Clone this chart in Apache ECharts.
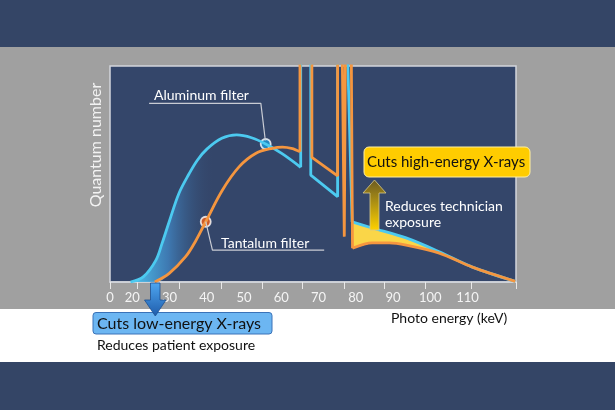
<!DOCTYPE html>
<html>
<head>
<meta charset="utf-8">
<script src="https://cdn.jsdelivr.net/npm/echarts@6/dist/echarts.min.js"></script>
<style>
html, body { margin: 0; padding: 0; }
#chart { width: 615px; height: 410px; }
</style>
</head>
<body>
<div id="chart"></div>
<script>
// x axis (keV) - the picture's axis starts a little below 20 but is labelled "0"
var xMin = 14, xMax = 123;
var xLabelValues = [14, 20, 30, 40, 50, 60, 70, 80, 90, 100, 110];
var xTickValues = [14, 21.3, 32.7, 43.8, 54.8, 65.7, 76.9, 87.7, 98.7, 111.1, 123];

// aluminum filter spectrum (cyan)
var cyanRiseX = [19.5, 23, 26.3, 28, 30, 32.5, 35.2, 37.5, 40, 44, 48, 52, 55.8, 60.3, 65.2];
var cyanRiseY = [0, 2.5, 10, 18, 28.5, 41, 50, 56.5, 61.5, 66.5, 68.1, 66.8, 63.9, 59.3, 53.1];
var cyanSpikeX = [65.2, 65.2, 67.9, 67.9, 75.1, 75.1, 77.4, 79.0];
var cyanSpikeY = [53.1, 130, 130, 49.5, 39.5, 130, 130, 27.8];
var cyanTailX = [79.0, 84.4, 93.5, 102.4, 111.3, 122.8];
var cyanTailY = [27.8, 25.0, 20.4, 14.0, 6.9, 0.3];

// tantalum filter spectrum (orange)
var orangeRiseX = [26, 29.9, 34.3, 37, 39.7, 44.2, 48.7, 53.2, 57.6, 60.3, 63, 65];
var orangeRiseY = [0, 4, 11.7, 19, 27.9, 42.6, 53.4, 59.6, 61.9, 62.4, 61.7, 60.3];
var orangeSpikeX = [65, 65, 68.2, 68.2, 75.1, 75.1, 76.2, 76.9, 77.3, 78.7, 79.1];
var orangeSpikeY = [60.3, 130, 130, 57.7, 49.1, 130, 130, 21, 130, 130, 15.6];
var orangeTailX = [79.1, 84.4, 89, 93.5, 102.4, 111.3, 122.8];
var orangeTailY = [15.6, 18.1, 18.1, 17.1, 13.4, 6.9, 0.3];

// shaded differences
var blueX = [19.5, 23, 26.3, 28, 30, 32.5, 35.2, 37.5, 40, 42];
var blueTop = [0, 2.5, 10, 18, 28.5, 41, 50, 56.5, 61.5, 64.5];
var blueBottom = [0, 0, 0, 0.8, 4.1, 8.5, 14, 20.5, 29, 35.5];
var yellowX = [79.1, 84.4, 89, 93.5, 98, 102.4, 104];
var yellowTop = [27.8, 25.0, 22.7, 20.4, 17.5, 14.0, 13.0];
var yellowBottom = [15.6, 18.1, 18.1, 17.1, 15.5, 13.4, 12.9];

// marker points and leader lines
var alPoint = [55.8, 63.9];
var taPoint = [39.7, 27.9];
var alLeader = [[24.5, 82.7], [54.5, 82.7], [55.7, 65.5]];
var taLeader = [[39.7, 27.9], [41.5, 14.8], [71.5, 14.8]];

function zip(xs, ys) {
    return xs.map(function (x, i) { return [x, ys[i]]; });
}

var CYAN = '#4ccaf0', ORANGE = '#f5963f', NAVY = '#344566';
var FONT = 'Lato';

function bandRender(xs, tops, bottoms, fill) {
    return function (params, api) {
        if (params.dataIndex !== 0) return;
        var pts = [];
        for (var i = 0; i < xs.length; i++) pts.push(api.coord([xs[i], tops[i]]));
        for (var j = xs.length - 1; j >= 0; j--) pts.push(api.coord([xs[j], bottoms[j]]));
        return { type: 'polygon', shape: { points: pts }, style: { fill: fill } };
    };
}

function lineSeries(xs, ys, color, smooth) {
    return {
        type: 'line', data: zip(xs, ys), smooth: smooth, showSymbol: false, clip: true,
        lineStyle: { color: color, width: 2.8 }, silent: true
    };
}

var chart = echarts.init(document.getElementById('chart'));

var option = {
    backgroundColor: '#a0a0a0',
    animation: false,
    grid: {
        left: 110, top: 66, width: 406, height: 216,
        show: true, backgroundColor: '#34466a', borderColor: '#d2d5dc', borderWidth: 1.5
    },
    xAxis: {
        type: 'value', min: xMin, max: xMax,
        splitLine: { show: false },
        axisLine: { show: true, lineStyle: { color: '#d2d5dc', width: 1.5 } },
        axisTick: { show: true, customValues: xTickValues, length: 7, lineStyle: { color: '#e8e8e8' } },
        axisLabel: {
            customValues: xLabelValues, color: '#f4f4f4', fontSize: 13, fontFamily: FONT, margin: 9,
            formatter: function (v) { return v === xMin ? '0' : String(v); }
        }
    },
    yAxis: {
        type: 'value', min: 0, max: 100,
        show: false
    },
    series: [
        {
            type: 'custom', clip: true, silent: true,
            data: blueX.map(function (x, i) { return [x, blueTop[i], blueBottom[i]]; }),
            encode: { x: 0, y: [1, 2] },
            renderItem: bandRender(blueX, blueTop, blueBottom,
                new echarts.graphic.LinearGradient(0, 0, 1, 0, [
                    { offset: 0, color: 'rgba(78,200,242,1)' },
                    { offset: 0.45, color: 'rgba(64,130,190,0.85)' },
                    { offset: 1, color: 'rgba(52,70,106,0)' }
                ]))
        },
        {
            type: 'custom', clip: true, silent: true,
            data: yellowX.map(function (x, i) { return [x, yellowTop[i], yellowBottom[i]]; }),
            encode: { x: 0, y: [1, 2] },
            renderItem: bandRender(yellowX, yellowTop, yellowBottom, '#fad648')
        },
        lineSeries(cyanRiseX, cyanRiseY, CYAN, 0.35),
        lineSeries(cyanSpikeX, cyanSpikeY, CYAN, false),
        lineSeries(cyanTailX, cyanTailY, CYAN, 0.3),
        lineSeries(orangeRiseX, orangeRiseY, ORANGE, 0.35),
        lineSeries(orangeSpikeX, orangeSpikeY, ORANGE, false),
        lineSeries(orangeTailX, orangeTailY, ORANGE, 0.3),
        {
            type: 'line', data: alLeader, showSymbol: false, silent: true,
            lineStyle: { color: '#c9ccd4', width: 1.2 }
        },
        {
            type: 'line', data: taLeader, showSymbol: false, silent: true,
            lineStyle: { color: '#c9ccd4', width: 1.2 }
        },
        {
            type: 'scatter', data: [alPoint], symbolSize: 10, silent: true,
            itemStyle: { color: '#1f9ad8', borderColor: '#ffffff', borderWidth: 1.8 }
        },
        {
            type: 'scatter', data: [taPoint], symbolSize: 10, silent: true,
            itemStyle: { color: '#f0601a', borderColor: '#ffffff', borderWidth: 1.8 }
        }
    ],
    graphic: [
        { type: 'rect', z: 1, shape: { x: 0, y: 0, width: 615, height: 47 }, style: { fill: NAVY } },
        { type: 'rect', z: 1, shape: { x: 0, y: 309, width: 615, height: 53 }, style: { fill: '#ffffff' } },
        { type: 'rect', z: 1, shape: { x: 0, y: 362, width: 615, height: 48 }, style: { fill: NAVY } },
        {
            type: 'text', z: 100, x: 96, y: 145, rotation: Math.PI / 2,
            style: { text: 'Quantum number', fill: '#f2f2f2', font: '16px ' + FONT, align: 'center', verticalAlign: 'middle' }
        },
        {
            type: 'text', z: 100, x: 154, y: 95,
            style: { text: 'Aluminum filter', fill: '#ffffff', font: '14px ' + FONT, verticalAlign: 'middle' }
        },
        {
            type: 'text', z: 100, x: 221, y: 243,
            style: { text: 'Tantalum filter', fill: '#ffffff', font: '14px ' + FONT, verticalAlign: 'middle' }
        },
        {
            type: 'text', z: 100, x: 385, y: 206,
            style: { text: 'Reduces technician', fill: '#ffffff', font: '14px ' + FONT, verticalAlign: 'middle' }
        },
        {
            type: 'text', z: 100, x: 385, y: 222,
            style: { text: 'exposure', fill: '#ffffff', font: '14px ' + FONT, verticalAlign: 'middle' }
        },
        {
            type: 'polygon', z: 100,
            shape: { points: [[370, 230], [379, 230], [379, 193], [386, 193], [374.5, 180], [363, 193], [370, 193]] },
            style: {
                fill: new echarts.graphic.LinearGradient(0, 0, 0, 1, [
                    { offset: 0, color: '#6a5a22' }, { offset: 1, color: '#ffd200' }
                ]),
                stroke: '#d8c98a', lineWidth: 0.8
            }
        },
        {
            type: 'rect', z: 100, shape: { x: 364, y: 147, width: 166, height: 30, r: 5 },
            style: { fill: '#ffcc00', stroke: '#fff0a0', lineWidth: 1 }
        },
        {
            type: 'text', z: 101, x: 367, y: 162,
            style: { text: 'Cuts high-energy X-rays', fill: '#111111', font: '15px ' + FONT, verticalAlign: 'middle' }
        },
        {
            type: 'rect', z: 100, shape: { x: 93, y: 312.5, width: 179, height: 21.5, r: 3 },
            style: { fill: '#6cb6f2', stroke: '#3a72b8', lineWidth: 1 }
        },
        {
            type: 'polygon', z: 101,
            shape: { points: [[150.5, 283], [160, 283], [160, 300], [166, 300], [155.3, 316], [144.5, 300], [150.5, 300]] },
            style: {
                fill: new echarts.graphic.LinearGradient(0, 0, 0, 1, [
                    { offset: 0, color: '#4ea6f0' }, { offset: 1, color: '#1f5cab' }
                ]),
                stroke: '#1d4f8f', lineWidth: 0.8
            }
        },
        {
            type: 'text', z: 102, x: 97, y: 323.5,
            style: { text: 'Cuts low-energy X-rays', fill: '#111111', font: '16px ' + FONT, verticalAlign: 'middle' }
        },
        {
            type: 'text', z: 100, x: 97, y: 345,
            style: { text: 'Reduces patient exposure', fill: '#111111', font: '14px ' + FONT, verticalAlign: 'middle' }
        },
        {
            type: 'text', z: 100, x: 391, y: 318,
            style: { text: 'Photo energy (keV)', fill: '#111111', font: '14px ' + FONT, verticalAlign: 'middle' }
        }
    ]
};

chart.setOption(option);
</script>
</body>
</html>
